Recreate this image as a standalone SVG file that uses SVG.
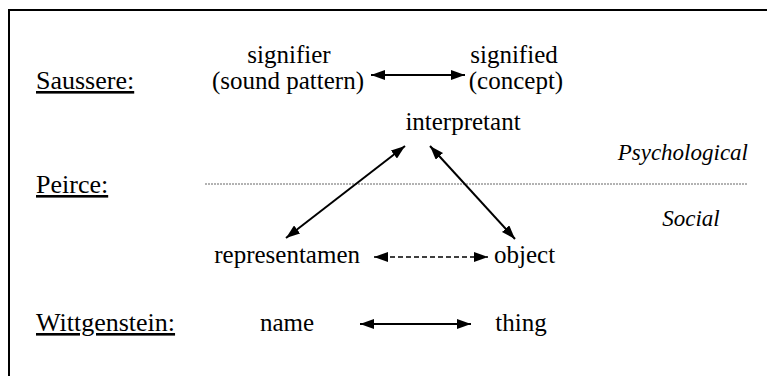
<svg xmlns="http://www.w3.org/2000/svg" width="767" height="376" viewBox="0 0 767 376">
  <style>
    text { font-family: "Liberation Serif", "Times New Roman", serif; font-size: 25px; fill: #000; }
    .lbl { text-decoration: underline; font-size: 26px; }
    .it { font-style: italic; font-size: 23px; }
    .mid { text-anchor: middle; }
    .end { text-anchor: end; }
    .conn { stroke: #000; stroke-width: 2; fill: none; }
    .dash { stroke: #000; stroke-width: 1.6; fill: none; stroke-dasharray: 5 3; }
    .frame { stroke: #000; stroke-width: 2; fill: none; }
    .divider { stroke: #666; stroke-width: 1; stroke-dasharray: 2 1; fill: none; }
  </style>
  <defs>
    <marker id="head" viewBox="0 0 14 10" refX="14" refY="5" markerWidth="14" markerHeight="10" markerUnits="userSpaceOnUse" orient="auto-start-reverse">
      <path d="M0,0 L14,5 L0,10 Z" fill="#000"/>
    </marker>
  </defs>

  <rect width="767" height="376" fill="#fff"/>

  <!-- frame: top and left edges only -->
  <path class="frame" d="M9,376 V10 H767"/>

  <!-- psychological / social divide -->
  <line class="divider" x1="205" y1="184" x2="748" y2="184"/>

  <!-- row labels -->
  <g id="label-saussere"><text class="lbl" x="36" y="89">Saussere:</text></g>
  <g id="label-peirce"><text class="lbl" x="36" y="193">Peirce:</text></g>
  <g id="label-wittgenstein"><text class="lbl" x="36" y="331">Wittgenstein:</text></g>

  <g id="zone-psychological"><text class="it end" x="748" y="160">Psychological</text></g>
  <g id="zone-social"><text class="it mid" x="691" y="226">Social</text></g>

  <!-- Saussure -->
  <g id="signifier">
    <text class="mid" x="289" y="63">signifier</text>
    <text class="mid" x="288" y="89">(sound pattern)</text>
  </g>
  <g id="signified">
    <text class="mid" x="514" y="63">signified</text>
    <text class="mid" x="516" y="89">(concept)</text>
  </g>

  <!-- Peirce -->
  <g id="interpretant"><text class="mid" x="463" y="130">interpretant</text></g>
  <g id="representamen"><text class="end" x="360" y="263">representamen</text></g>
  <g id="object"><text x="494" y="263">object</text></g>

  <!-- Wittgenstein -->
  <g id="name"><text class="mid" x="287" y="331">name</text></g>
  <g id="thing"><text class="mid" x="521" y="331">thing</text></g>

  <g id="connectors">
    <line class="conn" x1="371" y1="75" x2="465" y2="75" marker-start="url(#head)" marker-end="url(#head)"/>
    <line class="conn" x1="405" y1="146" x2="286" y2="238" marker-start="url(#head)" marker-end="url(#head)"/>
    <line class="conn" x1="430" y1="146" x2="515" y2="239" marker-start="url(#head)" marker-end="url(#head)"/>
    <line class="dash" x1="374" y1="257" x2="488" y2="257" marker-start="url(#head)" marker-end="url(#head)"/>
    <line class="conn" x1="360" y1="324" x2="471" y2="324" marker-start="url(#head)" marker-end="url(#head)"/>
  </g>
</svg>
